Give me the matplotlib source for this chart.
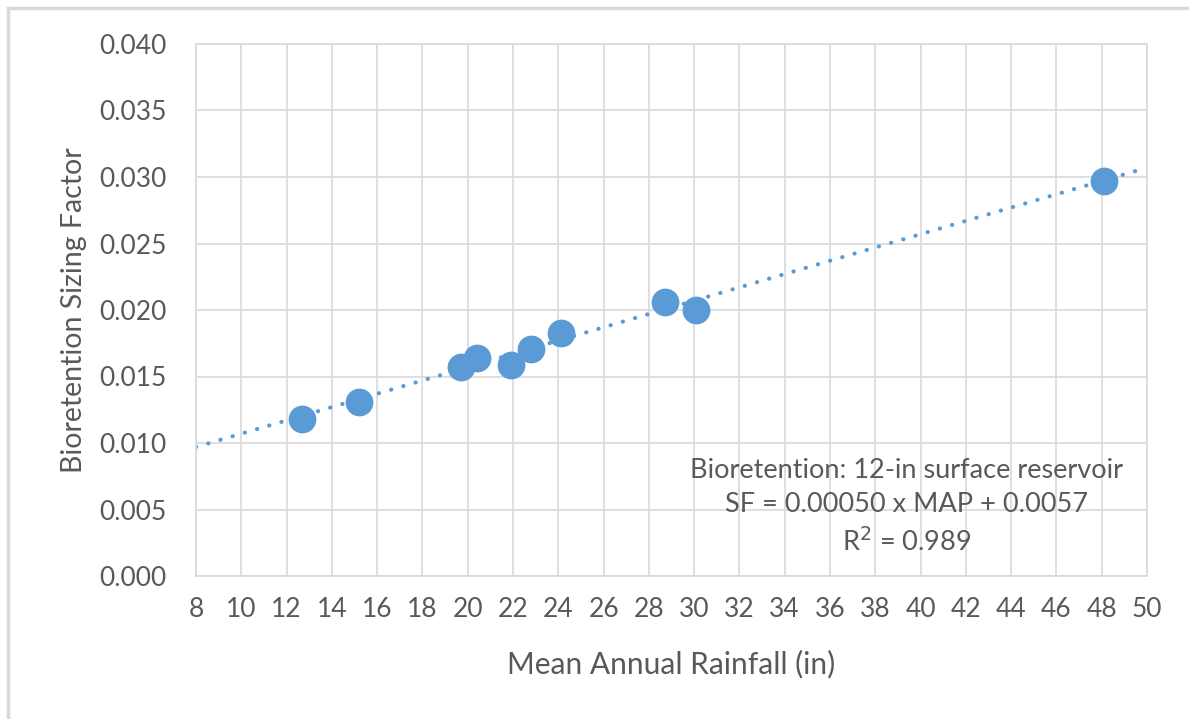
import matplotlib
matplotlib.use("Agg")
import matplotlib.pyplot as plt
from matplotlib.lines import Line2D

plt.rcParams['font.family'] = ['Lato', 'DejaVu Sans']

# data
rainfall = [12.7, 15.2, 19.7, 20.4, 21.9, 22.8, 24.1, 28.7, 30.1, 48.1]
sizing_factor = [0.0118, 0.0131, 0.0157, 0.0164, 0.0159, 0.0171, 0.0183, 0.0206, 0.0200, 0.0297]
slope = 0.00050
intercept = 0.0057
x_ticks = list(range(8, 51, 2))
y_ticks = [0.000, 0.005, 0.010, 0.015, 0.020, 0.025, 0.030, 0.035, 0.040]

txt = '#595959'
blue = '#5B9BD5'
W, H = 1189, 719

fig = plt.figure(figsize=(W / 100, H / 100), dpi=100)
ax = fig.add_axes([196 / W, 1 - 576 / H, (1147 - 196) / W, (576 - 44) / H])

# outer chart border (only left/top visible)
fig.add_artist(Line2D([8 / W, 8 / W], [0, 1 - 8 / H], color='#d9d9d9', lw=2.5, transform=fig.transFigure))
fig.add_artist(Line2D([8 / W, 1], [1 - 8 / H, 1 - 8 / H], color='#d9d9d9', lw=2.5, transform=fig.transFigure))

ax.set_xlim(8, 50)
ax.set_ylim(0, 0.040)
ax.set_xticks(x_ticks)
ax.set_yticks(y_ticks)
ax.set_yticklabels([f"{v:.3f}" for v in y_ticks])
ax.grid(True, color='#d9d9d9', lw=1.2)
ax.set_axisbelow(True)
for s in ax.spines.values():
    s.set_color('#d9d9d9')
    s.set_linewidth(1.2)
ax.tick_params(length=0, labelsize=19, labelcolor=txt)
ax.tick_params(axis='y', pad=21)
ax.tick_params(axis='x', pad=15)

xs = [8, 50]
ax.plot(xs, [slope * x + intercept for x in xs], color=blue, lw=3.0,
        linestyle=(0, (0.05, 3.0)), dash_capstyle='round', zorder=2)
ax.scatter(rainfall, sizing_factor, s=400, color=blue, zorder=3, linewidths=0)

ax.set_xlabel('Mean Annual Rainfall (in)', fontsize=21.5, color=txt, labelpad=20)
ax.set_ylabel('Bioretention Sizing Factor', fontsize=20.5, color=txt, labelpad=9)

ax.text(39.4, 0.0052, 'Bioretention: 12-in surface reservoir\nSF = 0.00050 x MAP + 0.0057\nR$^2$ = 0.989',
        ha='center', va='center', fontsize=19.5, color=txt, linespacing=1.45)

fig.savefig('out.png', dpi=100, facecolor='white')
